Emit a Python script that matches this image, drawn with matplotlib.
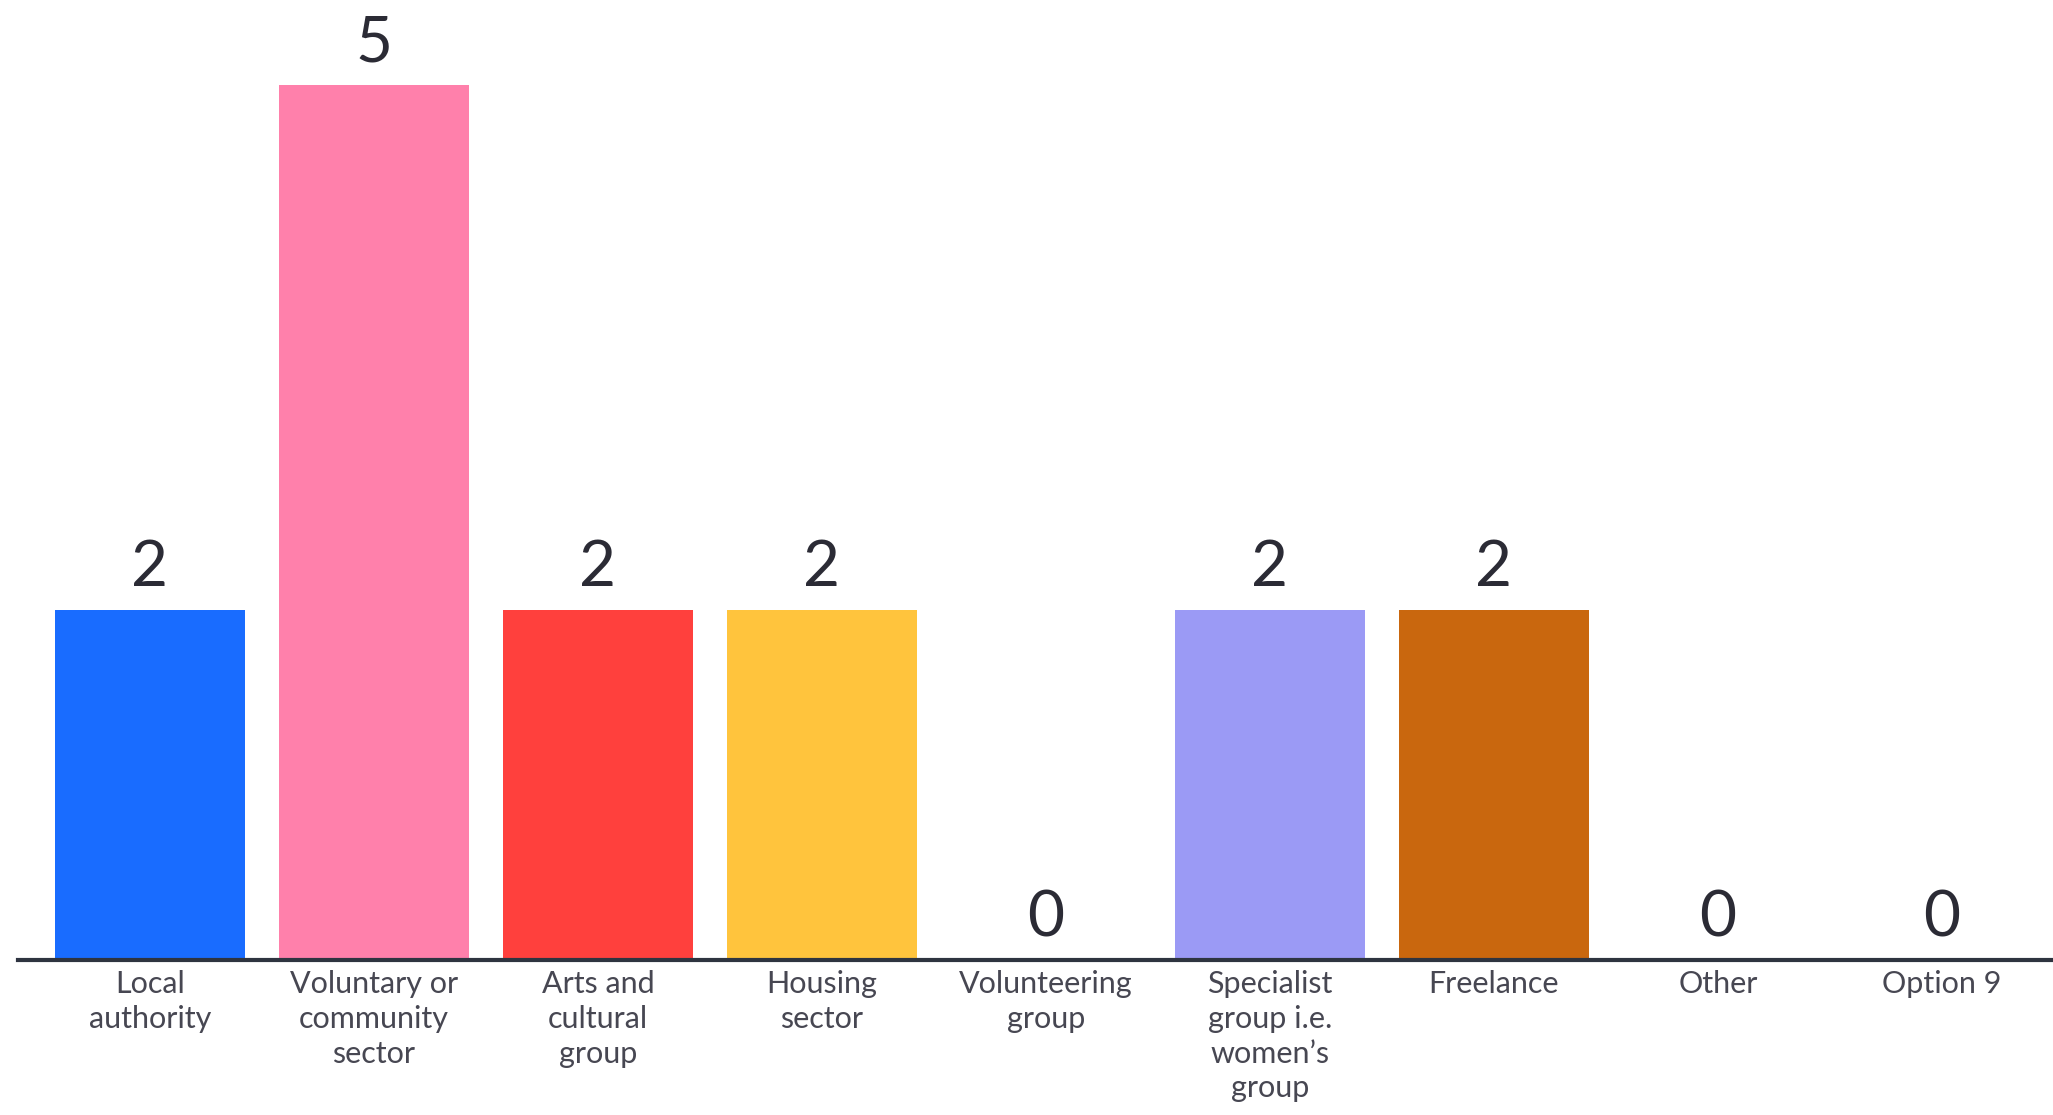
#!/usr/bin/env python3
"""Bar chart of respondents by sector."""

import matplotlib
matplotlib.use("Agg")
import matplotlib.pyplot as plt

categories = [
    "Local\nauthority",
    "Voluntary or\ncommunity\nsector",
    "Arts and\ncultural\ngroup",
    "Housing\nsector",
    "Volunteering\ngroup",
    "Specialist\ngroup i.e.\nwomen\u2019s\ngroup",
    "Freelance",
    "Other",
    "Option 9",
]
counts = [2, 5, 2, 2, 0, 2, 2, 0, 0]
colors = ["#196CFF", "#FF80AB", "#FF403D", "#FFC43D", "#5CC8BE",
          "#9B9AF5", "#C9670E", "#888888", "#888888"]


def main():
    plt.rcParams["font.family"] = ["Lato", "DejaVu Sans"]
    fig = plt.figure(figsize=(20.53, 11.15), dpi=100)
    ax = fig.add_axes([18 / 2053, 155 / 1115, 1 - 18 / 2053, 960 / 1115])

    x = list(range(len(categories)))
    bars = ax.bar(x, counts, width=0.848, color=colors, zorder=2)
    ax.bar_label(bars, padding=9, fontsize=46, color="#2b2b35")

    ax.set_xlim(-0.589, 8.496)
    ax.set_ylim(0, 960 / 175)
    ax.set_xticks(x)
    ax.set_xticklabels(categories, fontsize=22, color="#474752", linespacing=1.3)
    ax.tick_params(axis="x", length=0, pad=7)
    ax.set_yticks([])

    for side in ["top", "right", "left"]:
        ax.spines[side].set_visible(False)
    ax.spines["bottom"].set_linewidth(3)
    ax.spines["bottom"].set_color("#2e3440")
    ax.spines["bottom"].set_zorder(3)

    fig.savefig("out.png", dpi=100, facecolor="white")


if __name__ == "__main__":
    main()
